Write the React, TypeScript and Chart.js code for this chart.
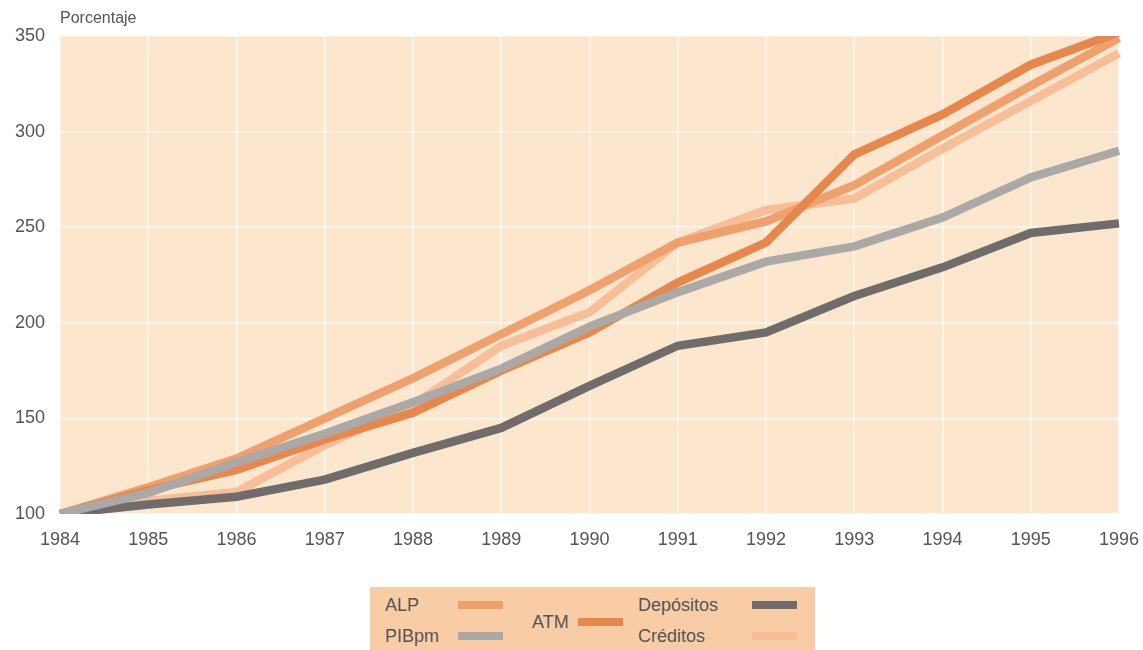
import React, { useEffect, useRef } from "react";
import { Chart, registerables } from "chart.js";

Chart.register(...registerables);

const years = ["1984", "1985", "1986", "1987", "1988", "1989", "1990", "1991", "1992", "1993", "1994", "1995", "1996"];
const alp = [100, 114, 129, 150, 171, 194, 217, 242, 253, 272, 298, 324, 349];
const atm = [100, 112.5, 123, 139, 153, 175, 195, 221, 242, 288, 309, 335, 352];
const pibpm = [100, 111, 127, 142, 158.5, 176, 198, 216, 232, 240, 255, 276, 290];
const depositos = [100, 105, 109, 118, 132, 145, 167, 188, 195, 214, 229, 247, 252];
const creditos = [100, 107, 111.5, 136, 157, 188, 205.5, 242, 259, 265, 291, 316, 341];
const yTicks = [100, 150, 200, 250, 300, 350];

const C_ALP = "#F0A06C";
const C_ATM = "#E8874C";
const C_PIB = "#ABA9A7";
const C_DEP = "#6F6C6B";
const C_CRE = "#F7BE98";

const FONT = "'Liberation Sans', Arial, sans-serif";

const bgPlugin = {
  id: "plotBg",
  beforeDraw(chart: any) {
    const { ctx, chartArea } = chart;
    ctx.save();
    ctx.fillStyle = "#FCE6CE";
    ctx.fillRect(chartArea.left, chartArea.top, chartArea.right - chartArea.left, chartArea.bottom - chartArea.top);
    ctx.restore();
  },
};

export default function App() {
  const ref = useRef<HTMLCanvasElement | null>(null);
  useEffect(() => {
    if (!ref.current) return;
    const mk = (label: string, data: number[], color: string, order: number) => ({
      label,
      data,
      borderColor: color,
      backgroundColor: color,
      borderWidth: 8.5,
      pointRadius: 0,
      tension: 0,
      fill: false,
      order,
      borderJoinStyle: "miter" as const,
      borderCapStyle: "butt" as const,
    });
    const chart = new Chart(ref.current, {
      type: "line",
      data: {
        labels: years,
        datasets: [
          mk("Créditos", creditos, C_CRE, 5),
          mk("ALP", alp, C_ALP, 4),
          mk("ATM", atm, C_ATM, 3),
          mk("Depósitos", depositos, C_DEP, 2),
          mk("PIBpm", pibpm, C_PIB, 1),
        ],
      },
      options: {
        animation: false,
        responsive: false,
        maintainAspectRatio: false,
        layout: { padding: { top: 36, right: 25, left: 0, bottom: 0 } },
        plugins: { legend: { display: false }, tooltip: { enabled: false } },
        scales: {
          x: {
            type: "category",
            offset: false,
            grid: { color: "rgba(255,255,255,0.75)", lineWidth: 1.5, drawTicks: false },
            border: { display: false },
            ticks: { color: "#555", font: { family: FONT, size: 18 }, padding: 15, maxRotation: 0, autoSkip: false },
            afterFit(scale: any) { scale.height = 46; },
          },
          y: {
            min: 100,
            max: 350,
            afterBuildTicks(scale: any) { scale.ticks = yTicks.map((v) => ({ value: v })); },
            grid: { color: "rgba(255,255,255,0.75)", lineWidth: 1.5, drawTicks: false },
            border: { display: false },
            ticks: { color: "#555", font: { family: FONT, size: 18 }, padding: 15 },
            afterFit(scale: any) { scale.width = 60; },
          },
        },
      },
      plugins: [
        bgPlugin,
        {
          id: "fixRight",
          afterLayout(chart: any) {},
        },
      ],
    });
    return () => chart.destroy();
  }, []);

  const txt: React.CSSProperties = { position: "absolute", fontFamily: FONT, fontSize: 18, color: "#555", lineHeight: "20px", whiteSpace: "nowrap" };
  const sw = (left: number, top: number, color: string): React.CSSProperties => ({
    position: "absolute", left, top, width: 45, height: 8, background: color,
  });

  return (
    <div style={{ position: "absolute", left: 0, top: 0, width: 1143, height: 650, background: "#fff", overflow: "hidden" }}>
      <canvas ref={ref} width={1154} height={560} style={{ position: "absolute", left: 0, top: 0 }} />
      <div style={{ ...txt, left: 60, top: 8, fontSize: 16 }}>Porcentaje</div>
      <div style={{ position: "absolute", left: 370, top: 587, width: 445, height: 63, background: "#F8CDA6" }}>
        <div style={{ ...txt, left: 15, top: 8 }}>ALP</div>
        <div style={sw(88, 14, C_ALP)} />
        <div style={{ ...txt, left: 15, top: 39 }}>PIBpm</div>
        <div style={sw(88, 45, C_PIB)} />
        <div style={{ ...txt, left: 162, top: 25 }}>ATM</div>
        <div style={sw(208, 31, C_ATM)} />
        <div style={{ ...txt, left: 268, top: 8 }}>Depósitos</div>
        <div style={sw(382, 14, C_DEP)} />
        <div style={{ ...txt, left: 268, top: 39 }}>Créditos</div>
        <div style={sw(382, 45, C_CRE)} />
      </div>
    </div>
  );
}
